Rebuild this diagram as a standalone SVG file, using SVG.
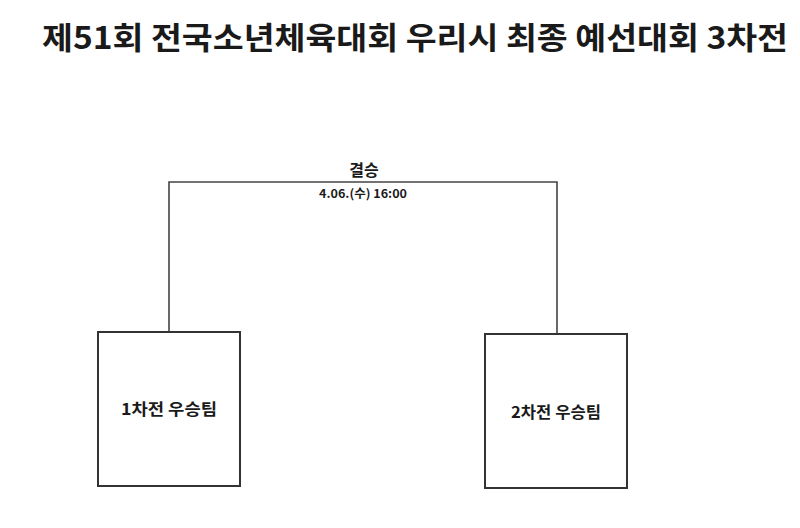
<svg xmlns="http://www.w3.org/2000/svg" width="800" height="528" viewBox="0 0 800 528">
<style>
text{font-family:"Noto Sans CJK KR","Noto Sans",sans-serif;font-weight:bold;fill:#1a1a1a}
.box{fill:#fff;stroke:#333;stroke-width:2}
.conn{fill:none;stroke:#444;stroke-width:1.6}
</style>
<rect width="800" height="528" fill="#fff"/>
<text x="415" y="49" font-size="31" text-anchor="middle" textLength="746" lengthAdjust="spacingAndGlyphs">제51회 전국소년체육대회 우리시 최종 예선대회 3차전</text>
<g id="connectors">
<polyline class="conn" points="169,332 169,182 557,182 557,334"/>
</g>
<g id="final">
<text x="364" y="176" font-size="16" text-anchor="middle">결승</text>
<text x="363" y="198" font-size="12" text-anchor="middle" textLength="88" lengthAdjust="spacingAndGlyphs">4.06.(수) 16:00</text>
</g>
<g id="team1">
<rect class="box" x="98" y="332" width="142" height="154"/>
<text x="169" y="415" font-size="16" text-anchor="middle" textLength="96" lengthAdjust="spacingAndGlyphs">1차전 우승팀</text>
</g>
<g id="team2">
<rect class="box" x="485" y="334" width="142" height="154"/>
<text x="556" y="418" font-size="16" text-anchor="middle" textLength="90" lengthAdjust="spacingAndGlyphs">2차전 우승팀</text>
</g>
</svg>
